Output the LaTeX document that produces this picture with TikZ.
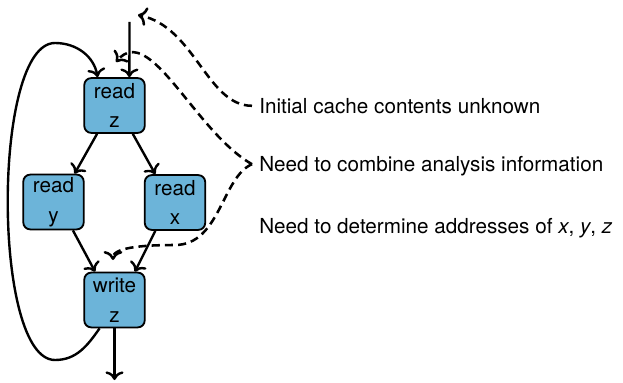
\documentclass[tikz,border=0pt]{standalone}
\usepackage{fontspec}
\setmainfont{TeX Gyre Heros}
\usepackage{tikz}
\usetikzlibrary{arrows.meta}

\tikzset{
  block/.style={draw, line width=1.3pt, rounded corners=5pt, fill=cacheblue,
    minimum width=43pt, minimum height=39pt, inner sep=1pt, align=center,
    font=\fontsize{14.7}{21}\selectfont},
  note/.style={anchor=west, inner xsep=5pt, inner ysep=0pt,
    text height=10.6pt, text depth=0pt, font=\fontsize{14.7}{18}\selectfont},
  flow/.style={-{To[scale=1.15]}, line width=1.7pt},
  hint/.style={-{To[scale=1.15]}, line width=1.8pt, dash pattern=on 5.8pt off 3.6pt}
}

\begin{document}
\begin{tikzpicture}[x=0.025cm, y=0.025cm]
    % colours
    \definecolor{cacheblue}{RGB}{108, 180, 217}

    \useasboundingbox (0,0) rectangle (623,382);

    % program blocks
    \node[block] (readz) at (114.5,276.5) {read\\z};
    \node[block] (ready) at (53.5,180) {read\\y};
    \node[block] (readx) at (175,179.5) {read\\x};
    \node[block] (writez) at (114.5,82) {write\\z};

    \coordinate (entry) at (129.5,360);
    \coordinate (exit) at (114.5,2);
    \coordinate (init) at (138,367);

    % control flow
    \draw[flow] (entry) -- ([xshift=10.6pt]readz.north);
    \draw[flow] ([xshift=-12.4pt]readz.south) -- ([xshift=15pt]ready.north);
    \draw[flow] ([xshift=13pt]readz.south) -- ([xshift=-14pt]readx.north);
    \draw[flow] ([xshift=13.8pt]ready.south) -- ([xshift=-13.8pt]writez.north);
    \draw[flow] ([xshift=-14pt]readx.south) -- ([xshift=14.5pt]writez.north);
    \draw[flow] (writez.south) -- (exit);
    \draw[flow] ([xshift=-10.6pt]writez.south) to[out=235,in=0] (55,22)
        to[out=180,in=180,looseness=0.51] (55,339)
        to[out=0,in=100] ([xshift=-12pt]readz.north);

    % remarks
    \node[note] (t1) at (252,276.2) {Initial cache contents unknown};
    \node[note] (t2) at (252,217.8) {Need to combine analysis information};
    \node[note] (t3) at (252,156.2) {Need to determine addresses of \textit{x}, \textit{y}, \textit{z}};

    \draw[hint] (t1.west) .. controls +(-45,0) and +(57,-12) .. (init);
    \draw[hint] (t2.west) .. controls (195,250) and (150,360) .. (116,320);
    \draw[hint] (t2.west) .. controls (222,205) and (220,137) .. (175,137)
        .. controls (140,137) and (113,134) .. (113,122);

\end{tikzpicture}
\end{document}
